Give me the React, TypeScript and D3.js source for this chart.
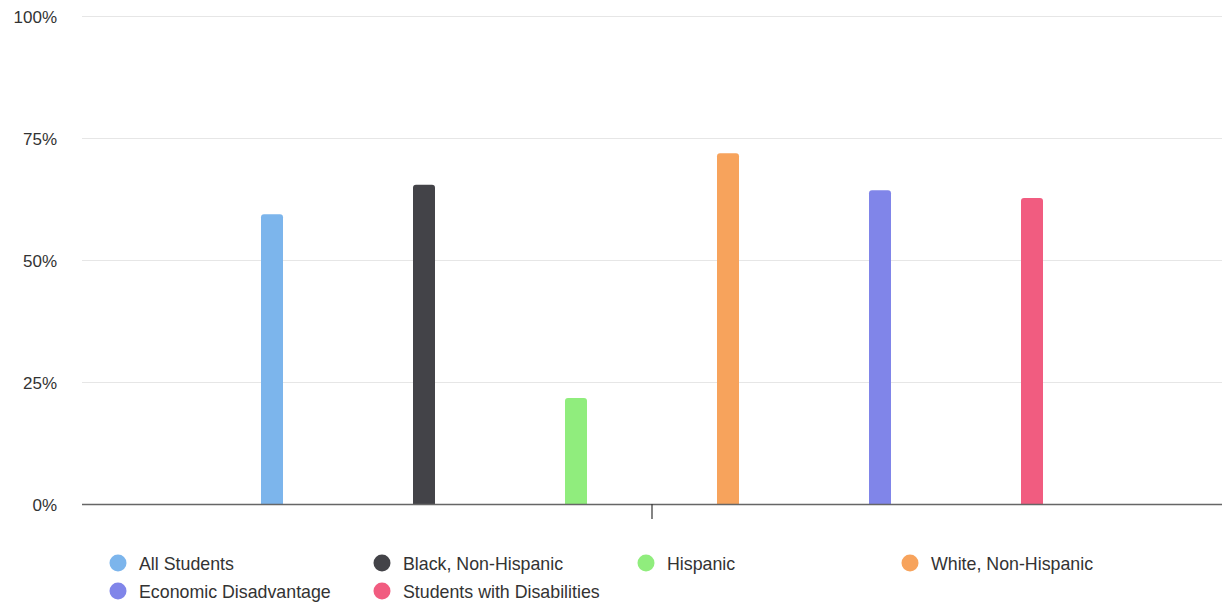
import React from "react";
import * as d3 from "d3";

const seriesNames = [
  "All Students",
  "Black, Non-Hispanic",
  "Hispanic",
  "White, Non-Hispanic",
  "Economic Disadvantage",
  "Students with Disabilities",
];
const seriesValues = [59.4, 65.4, 21.7, 71.9, 64.3, 62.7];
const seriesColors = ["#7cb5ec", "#434348", "#90ed7d", "#f7a35c", "#8085e9", "#f15c80"];
const yTicks = [0, 25, 50, 75, 100];

const W = 1224;
const H = 602;
const plotLeft = 82;
const plotRight = 1222;
const plotTop = 16;
const plotBottom = 504;

export default function App() {
  const y = d3.scaleLinear().domain([0, 100]).range([plotBottom, plotTop]);
  const catWidth = plotRight - plotLeft;
  const gp = 0.1 * catWidth;
  const x = d3
    .scaleBand<string>()
    .domain(seriesNames)
    .range([plotLeft + gp, plotRight - gp])
    .padding(0);
  const barW = 22;
  const r = 3;

  const barPath = (x0: number, y0: number, w: number, h: number) => {
    const rr = Math.min(r, h);
    return `M${x0},${y0 + h}V${y0 + rr}Q${x0},${y0} ${x0 + rr},${y0}H${x0 + w - rr}Q${x0 + w},${y0} ${x0 + w},${y0 + rr}V${y0 + h}Z`;
  };

  const legendCols = [118, 382, 646, 910];
  const legendRows = [563, 591];

  return (
    <svg
      width={W}
      height={H}
      style={{ position: "absolute", left: 0, top: 0, fontFamily: "'Liberation Sans', Arial, sans-serif" }}
    >
      <rect x={0} y={0} width={W} height={H} fill="#ffffff" />
      {yTicks.map((t) => (
        <g key={t}>
          {t !== 0 && (
            <line x1={plotLeft} x2={plotRight} y1={y(t) + 0.5} y2={y(t) + 0.5} stroke="#e6e6e6" strokeWidth={1} />
          )}
          <text x={57} y={y(t) + 6.5} textAnchor="end" fontSize={17} fill="#333333">
            {t}%
          </text>
        </g>
      ))}
      {seriesNames.map((s, i) => {
        const cx = (x(s) as number) + x.bandwidth() / 2;
        const top = y(seriesValues[i]);
        return (
          <path key={s} d={barPath(cx - barW / 2, top, barW, plotBottom - top)} fill={seriesColors[i]} />
        );
      })}
      <line x1={plotLeft} x2={plotRight} y1={plotBottom + 0.5} y2={plotBottom + 0.5} stroke="#666666" strokeWidth={1.5} />
      <line
        x1={(plotLeft + plotRight) / 2}
        x2={(plotLeft + plotRight) / 2}
        y1={plotBottom}
        y2={plotBottom + 15}
        stroke="#333333"
        strokeWidth={1.2}
      />
      {seriesNames.map((s, i) => {
        const cx = legendCols[i % 4];
        const cy = legendRows[Math.floor(i / 4)];
        return (
          <g key={s}>
            <circle cx={cx} cy={cy} r={8.5} fill={seriesColors[i]} />
            <text x={139} dx={cx - 118} y={cy + 6.5} fontSize={17.8} fill="#333333">
              {s}
            </text>
          </g>
        );
      })}
    </svg>
  );
}
